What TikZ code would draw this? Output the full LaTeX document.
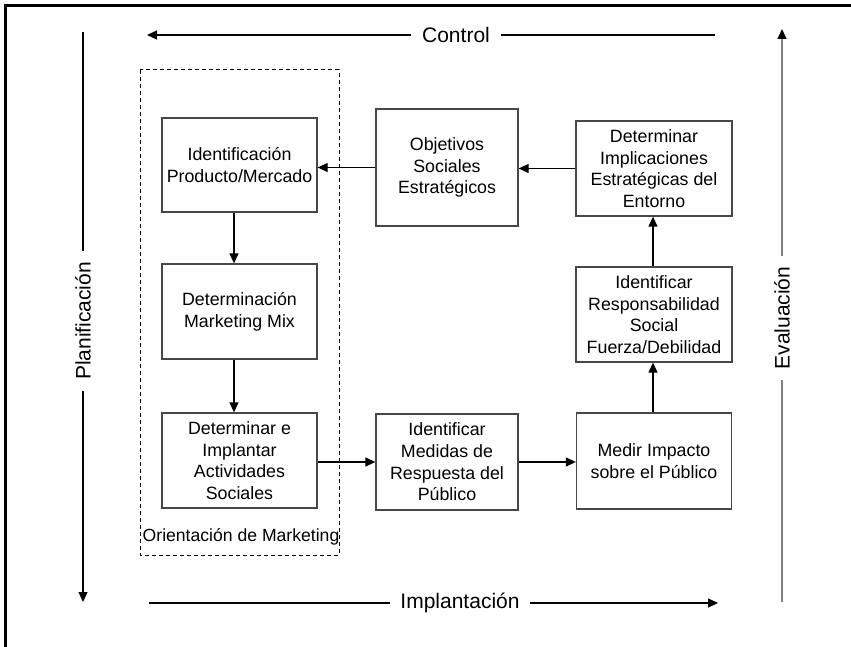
\documentclass[tikz,border=0pt]{standalone}
\usepackage{fontspec}
\setmainfont{Liberation Sans}
\usetikzlibrary{arrows.meta}
\begin{document}
\begin{tikzpicture}[x=1pt,y=-1pt,
  stepbox/.style={draw=black!72,line width=1.3pt,align=center,inner sep=2pt,
    font=\fontsize{17.8}{21.7}\selectfont},
  conn/.style={line width=1.25pt,-{Triangle[length=10pt,width=9pt]}},
  plain/.style={line width=1.25pt},
  axislabel/.style={font=\fontsize{21}{25}\selectfont,inner xsep=10.5pt,inner ysep=0pt}]
\useasboundingbox (0,0) rectangle (851,647);

% frame (top and left edges)
\draw[line width=3pt] (5.5,647) -- (5.5,5.5) -- (851,5.5);

% marketing orientation group
\draw[line width=1pt,dash pattern=on 4pt off 3pt] (140,70) rectangle (339,555);
\node[anchor=base west,inner sep=0pt,font=\fontsize{17.6}{21.7}\selectfont]
  (orient) at (142.5,541) {Orientación de Marketing};

% process boxes
\node[stepbox,minimum width=155pt,minimum height=94pt] (ident) at (239.5,165)
  {Identificación\\Producto/Mercado};
\node[stepbox,minimum width=142pt,minimum height=117pt] (objet) at (447,167.5)
  {Objetivos\\Sociales\\Estratégicos};
\node[stepbox,minimum width=156pt,minimum height=95pt] (implic) at (654,168.5)
  {Determinar\\Implicaciones\\Estratégicas del\\Entorno};
\node[stepbox,minimum width=155pt,minimum height=95pt] (mix) at (239.5,311.5)
  {Determinación\\Marketing Mix};
\node[stepbox,minimum width=156pt,minimum height=95pt] (respon) at (654,314.5)
  {Identificar\\Responsabilidad\\Social\\Fuerza/Debilidad};
\node[stepbox,minimum width=155pt,minimum height=95pt] (activ) at (239.5,460.5)
  {Determinar e\\Implantar\\Actividades\\Sociales};
\node[stepbox,minimum width=142pt,minimum height=96pt] (medidas) at (447,462)
  {Identificar\\Medidas de\\Respuesta del\\Público};
\node[stepbox,minimum width=155pt,minimum height=96pt] (impacto) at (654,461)
  {Medir Impacto\\sobre el Público};

% flow between boxes
\draw[conn] (objet.west) -- (ident.east |- objet.west);
\draw[conn] (implic.west) -- (objet.east |- implic.west);
\draw[conn] ([xshift=-5.5pt]ident.south) -- ([xshift=-5.5pt]mix.north);
\draw[conn] ([xshift=-5.5pt]mix.south) -- ([xshift=-5.5pt]activ.north);
\draw[conn] (activ.east |- medidas.west) -- (medidas.west);
\draw[conn] (medidas.east) -- (impacto.west |- medidas.east);
\draw[conn] ([xshift=-1pt]impacto.north) -- ([xshift=-1pt]respon.south);
\draw[conn] ([xshift=-1pt]respon.north) -- ([xshift=-1pt]implic.south);

% cycle axes around the diagram
\coordinate (ctlR) at (715,35);
\coordinate (ctlL) at (147,35);
\node[axislabel] (ctl) at (456,35) {Control};
\draw[plain] (ctlR) -- (ctl.east);
\draw[conn] (ctl.west) -- (ctlL);

\coordinate (impL) at (149,603);
\coordinate (impR) at (718,603);
\node[axislabel] (imp) at (460,603) {Implantación};
\draw[plain] (impL) -- (imp.west);
\draw[conn] (imp.east) -- (impR);

\coordinate (plaT) at (83,32);
\coordinate (plaB) at (83,602);
\node[axislabel,rotate=90] (pla) at (83,321) {Planificación};
\draw[plain] (plaT) -- (pla.east);
\draw[conn] (pla.west) -- (plaB);

\coordinate (evaB) at (782,602);
\coordinate (evaT) at (782,29);
\node[axislabel,rotate=90] (eva) at (782,318) {Evaluación};
\draw[plain,black!50] (evaB) -- (eva.west);
\draw[line width=1.25pt,black!50,-{Triangle[length=10pt,width=9pt,color=black]}] (eva.east) -- (evaT);
\end{tikzpicture}
\end{document}
